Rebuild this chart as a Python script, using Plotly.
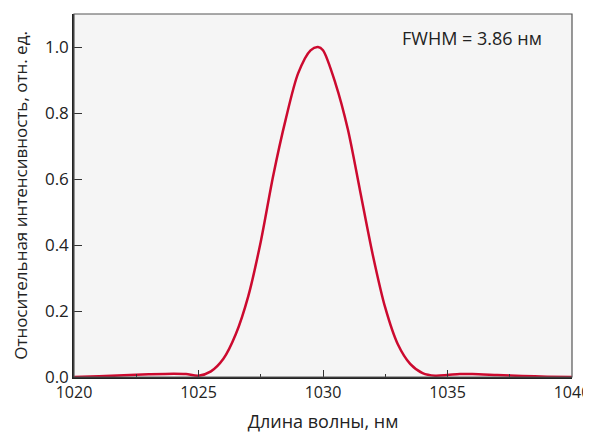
import plotly.graph_objects as go

wavelength = [1020, 1021, 1022, 1023, 1024, 1024.5, 1025, 1025.5, 1026, 1026.5, 1027, 1027.5,
              1028, 1028.5, 1029, 1029.5, 1029.8, 1030, 1030.5, 1031, 1031.5, 1032, 1032.5,
              1033, 1033.5, 1034, 1034.5, 1035, 1035.5, 1036, 1037, 1038, 1039, 1040]
intensity = [0.0, 0.002, 0.005, 0.008, 0.01, 0.009, 0.004, 0.017, 0.055, 0.13, 0.245, 0.41,
             0.61, 0.78, 0.92, 0.99, 1.0, 0.99, 0.89, 0.75, 0.56, 0.37, 0.21,
             0.10, 0.04, 0.012, 0.004, 0.006, 0.009, 0.009, 0.006, 0.003, 0.001, 0.0]

x_ticks = [1020, 1025, 1030, 1035, 1040]
y_ticks = [0.0, 0.2, 0.4, 0.6, 0.8, 1.0]
y_tick_labels = ["0.0", "0.2", "0.4", "0.6", "0.8", "1.0"]

FONT = "Open Sans"

fig = go.Figure()
fig.add_trace(go.Scatter(
    x=wavelength, y=intensity, mode="lines",
    line=dict(color="#cc0a2f", width=2.5, shape="spline", smoothing=0.8),
    showlegend=False, hoverinfo="skip",
))

fig.add_shape(type="rect", xref="paper", yref="paper", x0=0, y0=0, x1=1, y1=1,
              line=dict(color="#555555", width=1.2), layer="above")

fig.add_annotation(text="FWHM = 3.86 нм", xref="paper", yref="paper",
                   x=0.655, y=0.935, xanchor="left", yanchor="middle",
                   showarrow=False, font=dict(family=FONT, size=18, color="#222222"))

fig.update_xaxes(
    range=[1020, 1040], tickvals=x_ticks, ticks="inside", ticklen=7, tickwidth=1,
    tickcolor="#333333", showline=True, linecolor="#222222", linewidth=1.5,
    showgrid=False, zeroline=False, automargin=False, ticklabeloverflow="allow",
    minor=dict(dtick=2.5, tick0=1020, ticks="inside", ticklen=3, tickcolor="#333333", showgrid=False),
    tickfont=dict(family=FONT, size=16, color="#222222"),
    title=dict(text="Длина волны, нм", font=dict(family=FONT, size=18, color="#222222"), standoff=13),
)
fig.update_yaxes(
    range=[0, 1.1], tickvals=y_ticks, ticktext=y_tick_labels, ticks="inside", ticklen=8,
    tickwidth=1, tickcolor="#333333", showline=True, linecolor="#222222", linewidth=1.5,
    showgrid=False, zeroline=False, automargin=False, ticklabeloverflow="allow",
    tickfont=dict(family=FONT, size=17, color="#222222"),
    title=dict(text="Относительная интенсивность, отн. ед.", font=dict(family=FONT, size=17, color="#222222"), standoff=13),
)

fig.update_layout(
    width=583, height=426,
    margin=dict(l=66, r=19, t=6, b=57),
    plot_bgcolor="#f5f5f5", paper_bgcolor="white",
)

fig.write_html("out.html")
